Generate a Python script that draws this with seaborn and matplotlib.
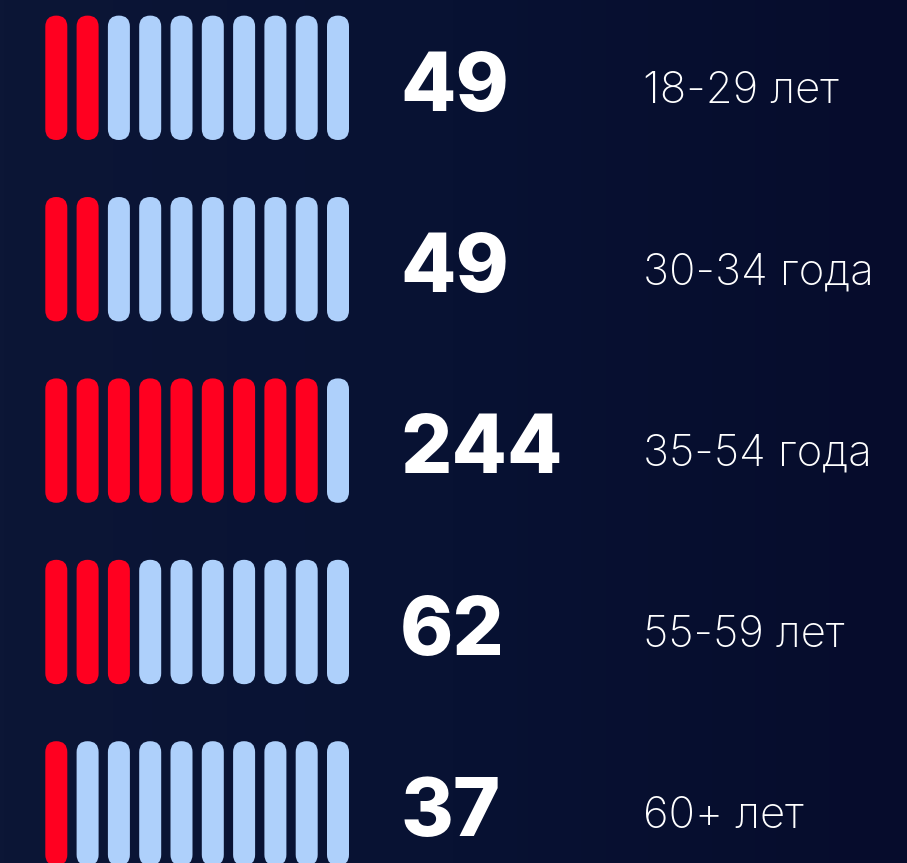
import numpy as np
import pandas as pd
import matplotlib
matplotlib.use("Agg")
import matplotlib.pyplot as plt
from matplotlib.patches import FancyBboxPatch
from matplotlib.colors import LinearSegmentedColormap
import seaborn as sns

# ---- data ----
groups = ["18-29 лет", "30-34 года", "35-54 года", "55-59 лет", "60+ лет"]
counts = [49, 49, 244, 62, 37]
filled = [2, 2, 9, 3, 1]
slots = 10

# ---- style ----
sns.set_theme(style="white")
plt.rcParams['font.family'] = ['Inter', 'DejaVu Sans']

RED = "#ff0020"
BLUE = "#aed0fb"

W, H = 907, 863
fig = plt.figure(figsize=(W / 100, H / 100), dpi=100)
ax = fig.add_axes([0, 0, 1, 1])
ax.set_xlim(0, W)
ax.set_ylim(H, 0)
ax.axis("off")

# background gradient
cmap = LinearSegmentedColormap.from_list("bg", ["#0c1636", "#081233", "#060c2c"])
grad = np.linspace(0, 1, 256).reshape(1, -1)
ax.imshow(grad, cmap=cmap, extent=[0, W, H, 0], aspect="auto", zorder=0)

# layout
x0, pitch_x, bw = 45.3, 31.3, 22.0
y0, pitch_y, bh = 15.6, 181.4, 124.4

rows = []
for r, (g, c, f) in enumerate(zip(groups, counts, filled)):
    for i in range(slots):
        rows.append({"row": r, "slot": i, "on": i < f})
df = pd.DataFrame(rows)

for _, rec in df.iterrows():
    x = x0 + rec.slot * pitch_x
    y = y0 + rec.row * pitch_y
    p = FancyBboxPatch((x, y), bw, bh,
                       boxstyle=f"round,pad=0,rounding_size={bw/2}",
                       facecolor=RED if rec.on else BLUE,
                       edgecolor="none", zorder=2)
    ax.add_patch(p)

for r, (g, c) in enumerate(zip(groups, counts)):
    ytop = y0 + r * pitch_y
    ax.text(400, ytop + 95, str(c), color="white", fontsize=58,
            fontweight=800, ha="left", va="baseline", zorder=3)
    ax.text(643, ytop + 87, g, color="white", fontsize=31.5,
            fontweight="light", ha="left", va="baseline", zorder=3)

fig.savefig("out.png", dpi=100)
